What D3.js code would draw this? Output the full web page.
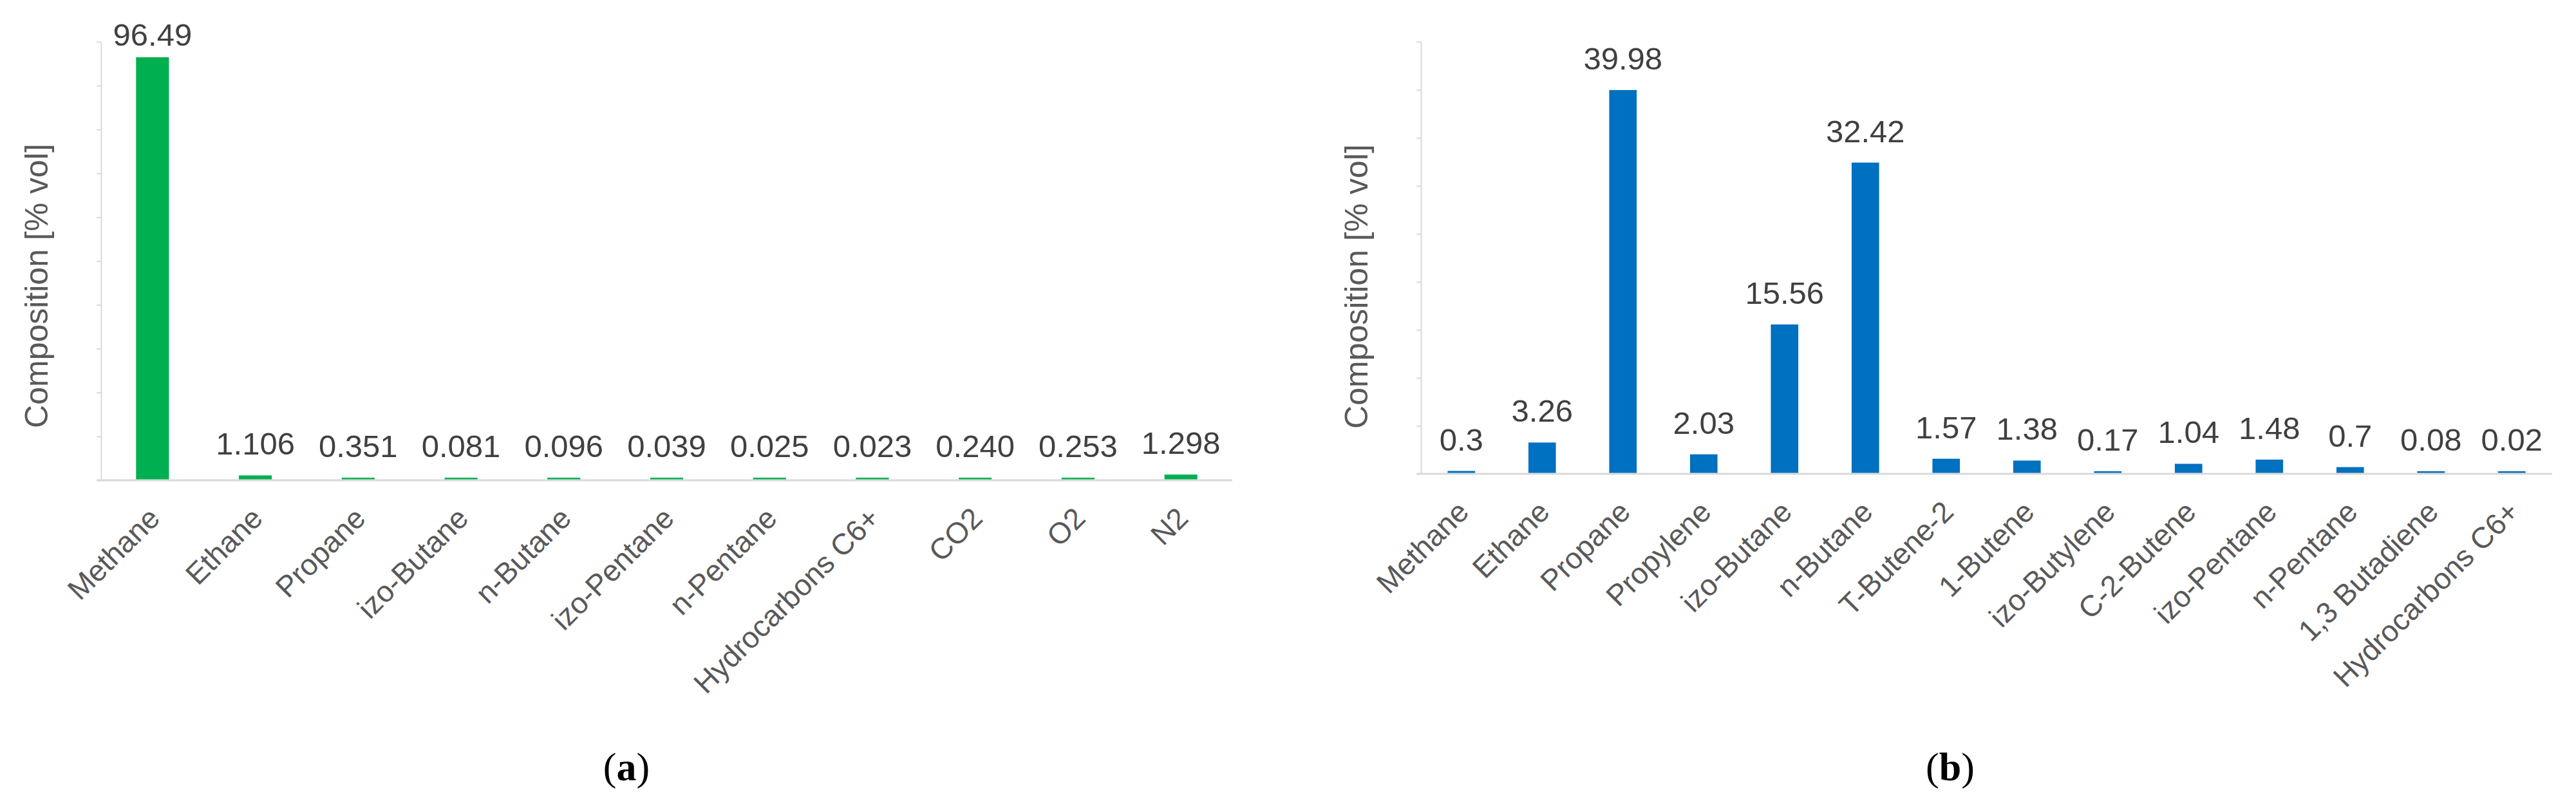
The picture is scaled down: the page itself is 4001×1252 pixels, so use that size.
<!DOCTYPE html>
<html>
<head>
<meta charset="utf-8">
<script src="https://cdn.jsdelivr.net/npm/d3@7"></script>
<style>
  html, body { margin: 0; padding: 0; background: #fff; }
  svg { display: block; }
</style>
</head>
<body>
<svg id="chart" width="4001" height="1252"></svg>
<script>
// ---- Data (panel a: natural gas) ----
const categoriesA = ["Methane", "Ethane", "Propane", "izo-Butane", "n-Butane", "izo-Pentane",
  "n-Pentane", "Hydrocarbons C6+", "CO2", "O2", "N2"];
const valuesA = [96.49, 1.106, 0.351, 0.081, 0.096, 0.039, 0.025, 0.023, 0.240, 0.253, 1.298];
const valueLabelsA = ["96.49", "1.106", "0.351", "0.081", "0.096", "0.039", "0.025", "0.023", "0.240", "0.253", "1.298"];
const yTicksA = [0, 10, 20, 30, 40, 50, 60, 70, 80, 90, 100];

// ---- Data (panel b: LPG) ----
const categoriesB = ["Methane", "Ethane", "Propane", "Propylene", "izo-Butane", "n-Butane",
  "T-Butene-2", "1-Butene", "izo-Butylene", "C-2-Butene", "izo-Pentane", "n-Pentane",
  "1,3 Butadiene", "Hydrocarbons C6+"];
const valuesB = [0.3, 3.26, 39.98, 2.03, 15.56, 32.42, 1.57, 1.38, 0.17, 1.04, 1.48, 0.7, 0.08, 0.02];
const valueLabelsB = ["0.3", "3.26", "39.98", "2.03", "15.56", "32.42", "1.57", "1.38", "0.17", "1.04", "1.48", "0.7", "0.08", "0.02"];
const yTicksB = [0, 5, 10, 15, 20, 25, 30, 35, 40, 45];

const yTitle = "Composition [% vol]";
const panelCaptions = ["a", "b"];

const svg = d3.select("#chart");

function drawPanel(cfg) {
  const g = svg.append("g");
  const x = d3.scaleBand().domain(cfg.categories).range([cfg.left, cfg.right])
    .paddingInner(cfg.pad).paddingOuter(cfg.pad / 2);
  const y = d3.scaleLinear().domain([0, cfg.yMax]).range([cfg.bottom, cfg.top]);

  // y axis (ticks without labels)
  const yAxis = g.append("g")
    .attr("transform", `translate(${cfg.left},0)`)
    .call(d3.axisLeft(y).tickValues(cfg.yTicks).tickSize(7).tickSizeOuter(0).tickFormat(""));
  yAxis.select(".domain").attr("stroke", "#d9d9d9").attr("stroke-width", 2);
  yAxis.selectAll(".tick line").attr("stroke", "#d9d9d9").attr("stroke-width", 2);

  // bars
  const minH = 4;
  const barTop = v => Math.min(y(v), cfg.bottom - minH);
  g.selectAll("rect.bar").data(cfg.values).enter().append("rect")
    .attr("class", "bar")
    .attr("x", (d, i) => x(cfg.categories[i]))
    .attr("width", x.bandwidth())
    .attr("y", d => barTop(d))
    .attr("height", d => cfg.bottom - barTop(d))
    .attr("fill", cfg.color);

  // x axis line
  g.append("line")
    .attr("x1", cfg.left - 7).attr("x2", cfg.right)
    .attr("y1", cfg.bottom).attr("y2", cfg.bottom)
    .attr("stroke", "#d9d9d9").attr("stroke-width", 3);

  // value labels
  g.selectAll("text.val").data(cfg.values).enter().append("text")
    .attr("class", "val")
    .attr("x", (d, i) => x(cfg.categories[i]) + x.bandwidth() / 2)
    .attr("y", d => Math.max(barTop(d) - 32, cfg.labelMinY))
    .attr("text-anchor", "middle")
    .attr("font-family", "'Liberation Sans', Arial, sans-serif")
    .attr("font-size", 49)
    .attr("fill", "#404040")
    .text((d, i) => cfg.valueLabels[i]);

  // category labels, rotated -45
  g.selectAll("text.cat").data(cfg.categories).enter().append("text")
    .attr("class", "cat")
    .attr("transform", d => `translate(${x(d) + x.bandwidth() / 2 + 14},${cfg.bottom + 62}) rotate(-45)`)
    .attr("text-anchor", "end")
    .attr("font-family", "'Liberation Sans', Arial, sans-serif")
    .attr("font-size", 46)
    .attr("fill", "#595959")
    .text(d => d);

  // y title
  g.append("text")
    .attr("transform", `translate(${cfg.titleX},${cfg.titleY}) rotate(-90)`)
    .attr("text-anchor", "middle")
    .attr("font-family", "'Liberation Sans', Arial, sans-serif")
    .attr("font-size", 50)
    .attr("fill", "#595959")
    .text(yTitle);

  // caption
  const cap = g.append("text")
    .attr("x", cfg.capX).attr("y", 1212)
    .attr("text-anchor", "middle")
    .attr("font-family", "'Liberation Serif', 'Times New Roman', serif")
    .attr("font-size", 62)
    .attr("fill", "#000");
  cap.append("tspan").text("(");
  cap.append("tspan").attr("font-weight", "bold").text(cfg.caption);
  cap.append("tspan").text(")");
}

drawPanel({
  categories: categoriesA, values: valuesA, valueLabels: valueLabelsA, yTicks: yTicksA,
  yMax: 100, left: 157, right: 1914, top: 65, bottom: 746, pad: 0.68,
  color: "#00B050", labelMinY: 71, titleX: 74, titleY: 444, capX: 973, caption: panelCaptions[0]
});

drawPanel({
  categories: categoriesB, values: valuesB, valueLabels: valueLabelsB, yTicks: yTicksB,
  yMax: 45, left: 2207, right: 3964, top: 65, bottom: 736, pad: 0.66,
  color: "#0070C0", labelMinY: 0, titleX: 2124, titleY: 445, capX: 3029, caption: panelCaptions[1]
});
</script>
</body>
</html>
